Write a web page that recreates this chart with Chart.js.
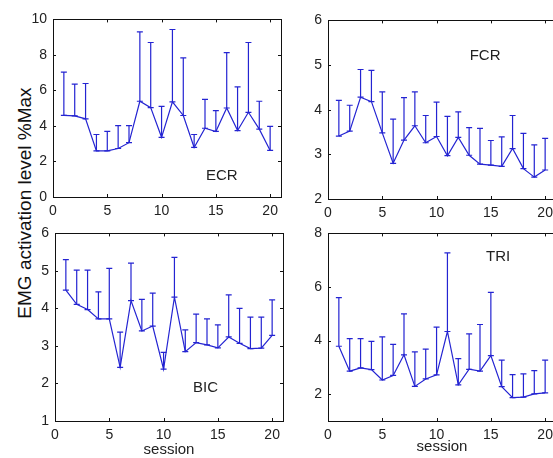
<!DOCTYPE html>
<html>
<head>
<meta charset="utf-8">
<script src="https://cdn.jsdelivr.net/npm/chart.js@4.4.1/dist/chart.umd.min.js"></script>
<style>
    html, body { margin: 0; padding: 0; background: #fff; overflow: hidden; width: 553px; height: 458px; }
    canvas { position: absolute; }
    #ylab {
        position: absolute; left: 24px; top: 203px;
        transform: translate(-50%, -50%) rotate(-90deg);
        font: 19px "Liberation Sans", Arial, sans-serif; color: #111;
        white-space: nowrap; line-height: 1;
    }
</style>
</head>
<body>
<div id="ylab">EMG activation level %Max</div>
<script>
// --- Dados ---
const sessions = [1, 2, 3, 4, 5, 6, 7, 8, 9, 10, 11, 12, 13, 14, 15, 16, 17, 18, 19, 20];
const xTicks = [0, 5, 10, 15, 20];

const ecrMean  = [4.6, 4.57, 4.4, 2.6, 2.6, 2.73, 3.06, 5.39, 5.03, 3.36, 5.36, 4.59, 2.79, 3.87, 3.69, 5.01, 3.74, 4.77, 3.82, 2.62];
const ecrUpper = [7.03, 6.35, 6.39, 3.52, 3.69, 4.02, 4.02, 9.3, 8.7, 5.1, 9.43, 7.83, 3.52, 5.5, 4.86, 8.13, 6.2, 8.7, 5.39, 3.98];
const ecrTicks = [0, 2, 4, 6, 8, 10];

const fcrMean  = [3.41, 3.52, 4.28, 4.18, 3.48, 2.8, 3.32, 3.64, 3.26, 3.4, 2.97, 3.38, 2.98, 2.78, 2.76, 2.73, 3.13, 2.68, 2.49, 2.65];
const fcrUpper = [4.21, 4.1, 4.9, 4.88, 4.4, 3.79, 4.27, 4.4, 3.87, 4.17, 3.85, 3.95, 3.6, 3.58, 3.31, 3.39, 3.87, 3.47, 3.21, 3.36];
const fcrTicks = [2, 3, 4, 5, 6];

const bicMean  = [4.49, 4.11, 3.97, 3.72, 3.72, 2.43, 4.21, 3.4, 3.53, 2.38, 4.3, 2.85, 3.09, 3.03, 2.95, 3.24, 3.07, 2.93, 2.94, 3.28];
const bicUpper = [5.3, 5.02, 5.02, 4.44, 5.07, 3.37, 5.21, 4.24, 4.41, 2.83, 5.36, 3.43, 3.85, 3.72, 3.56, 4.36, 4.0, 3.77, 3.77, 4.23];
const bicTicks = [1, 2, 3, 4, 5, 6];

const triMean  = [3.79, 2.86, 2.98, 2.92, 2.53, 2.7, 3.47, 2.29, 2.57, 2.72, 4.34, 2.35, 2.93, 2.86, 3.44, 2.28, 1.87, 1.89, 2.01, 2.05];
const triUpper = [5.6, 4.07, 4.07, 3.97, 4.14, 3.86, 5.0, 3.58, 3.68, 4.5, 7.27, 3.33, 4.25, 4.6, 5.8, 3.27, 2.73, 2.76, 2.88, 3.27];
const triTicks = [2, 4, 6, 8];

// --- Estilo ---
const FONT = '"Liberation Sans", Arial, sans-serif';
const LINE_COLOR = '#2424d2';
const TEXT_COLOR = '#222';

// painéis: caixa do gráfico em pixels da página
const panels = [
    { name: 'ECR', mean: ecrMean, upper: ecrUpper, yTicks: ecrTicks, yMin: 0, yMax: 10,
      box: { l: 53, t: 15, r: 281, b: 197 }, xTitle: '', xh: 30, label: { x: 15.55, y: 1.21 } },
    { name: 'FCR', mean: fcrMean, upper: fcrUpper, yTicks: fcrTicks, yMin: 2, yMax: 6,
      box: { l: 328, t: 16, r: 556, b: 199 }, xTitle: '', xh: 30, label: { x: 14.47, y: 5.21 } },
    { name: 'BIC', mean: bicMean, upper: bicUpper, yTicks: bicTicks, yMin: 1, yMax: 6,
      box: { l: 55, t: 229, r: 283, b: 421 }, xTitle: 'session', xh: 38, label: { x: 13.86, y: 1.87 } },
    { name: 'TRI', mean: triMean, upper: triUpper, yTicks: triTicks, yMin: 1, yMax: 8,
      box: { l: 328, t: 229, r: 556, b: 421 }, xTitle: 'session', xh: 35, label: { x: 15.67, y: 7.12 } }
];

const Y_W = 45;   // largura fixa do eixo y
const PAD_T = 10;
const PAD_R = 6;

// --- Plugin: barras de erro (só superior) ---
const errorBarsPlugin = {
    id: 'errorBars',
    afterDatasetsDraw(chart, args, opts) {
        const ctx = chart.ctx;
        const meta = chart.getDatasetMeta(0);
        const yScale = chart.scales.y;
        const upper = opts.upper || [];
        ctx.save();
        ctx.strokeStyle = LINE_COLOR;
        ctx.lineWidth = 1.2;
        meta.data.forEach((pt, i) => {
            const x = pt.x;
            const yTop = yScale.getPixelForValue(upper[i]);
            ctx.beginPath();
            ctx.moveTo(x, pt.y);
            ctx.lineTo(x, yTop);
            ctx.moveTo(x - 3, yTop);
            ctx.lineTo(x + 3, yTop);
            ctx.moveTo(x - 3, pt.y);
            ctx.lineTo(x + 3, pt.y);
            ctx.stroke();
        });
        ctx.restore();
    }
};

// --- Plugin: caixa estilo MATLAB com ticks para dentro + rótulo do músculo ---
const boxPlugin = {
    id: 'matlabBox',
    afterDraw(chart, args, opts) {
        const ctx = chart.ctx;
        const a = chart.chartArea;
        const xs = chart.scales.x;
        const ys = chart.scales.y;
        const len = 3;
        ctx.save();
        ctx.strokeStyle = '#111';
        ctx.lineWidth = 1;
        ctx.strokeRect(Math.round(a.left) + 0.5, Math.round(a.top) + 0.5,
            Math.round(a.right - a.left), Math.round(a.bottom - a.top));
        ctx.beginPath();
        xs.ticks.forEach(t => {
            const px = Math.round(xs.getPixelForValue(t.value)) + 0.5;
            ctx.moveTo(px, a.bottom); ctx.lineTo(px, a.bottom - len);
            ctx.moveTo(px, a.top); ctx.lineTo(px, a.top + len);
        });
        ys.ticks.forEach(t => {
            const py = Math.round(ys.getPixelForValue(t.value)) + 0.5;
            ctx.moveTo(a.left, py); ctx.lineTo(a.left + len, py);
            ctx.moveTo(a.right, py); ctx.lineTo(a.right - len, py);
        });
        ctx.stroke();

        if (opts.text) {
            ctx.fillStyle = TEXT_COLOR;
            ctx.font = '15px ' + FONT;
            ctx.textAlign = 'center';
            ctx.textBaseline = 'middle';
            ctx.fillText(opts.text, xs.getPixelForValue(opts.x), ys.getPixelForValue(opts.y));
        }
        ctx.restore();
    }
};

function criarPainel(p) {
    const w = (p.box.r - p.box.l) + Y_W + PAD_R;
    const h = (p.box.b - p.box.t) + PAD_T + p.xh;
    const canvas = document.createElement('canvas');
    canvas.width = w;
    canvas.height = h;
    canvas.style.left = (p.box.l - Y_W) + 'px';
    canvas.style.top = (p.box.t - PAD_T) + 'px';
    document.body.appendChild(canvas);

    const yTicks = p.yTicks;
    new Chart(canvas, {
        type: 'line',
        data: {
            datasets: [{
                data: sessions.map((s, i) => ({ x: s, y: p.mean[i] })),
                borderColor: LINE_COLOR,
                borderWidth: 1.2,
                pointRadius: 0,
                tension: 0,
                fill: false
            }]
        },
        options: {
            responsive: false,
            animation: false,
            layout: { padding: { left: 0, top: PAD_T, right: PAD_R, bottom: 0 } },
            plugins: {
                legend: { display: false },
                tooltip: { enabled: false },
                errorBars: { upper: p.upper },
                matlabBox: { text: p.name, x: p.label.x, y: p.label.y }
            },
            scales: {
                x: {
                    type: 'linear',
                    min: 0, max: 21,
                    grid: { display: false, drawTicks: false },
                    border: { display: false },
                    ticks: { padding: 6, color: TEXT_COLOR, font: { family: FONT, size: 14 } },
                    afterBuildTicks: s => { s.ticks = xTicks.map(v => ({ value: v })); },
                    afterFit: s => { s.height = p.xh; },
                    title: {
                        display: !!p.xTitle, text: p.xTitle, color: TEXT_COLOR,
                        font: { family: FONT, size: 15 }, padding: { top: 0, bottom: 0 }
                    }
                },
                y: {
                    min: p.yMin, max: p.yMax,
                    grid: { display: false, drawTicks: false },
                    border: { display: false },
                    ticks: { padding: 6, color: TEXT_COLOR, font: { family: FONT, size: 14 } },
                    afterBuildTicks: s => { s.ticks = yTicks.map(v => ({ value: v })); },
                    afterFit: s => { s.width = Y_W; }
                }
            }
        },
        plugins: [errorBarsPlugin, boxPlugin]
    });
}

panels.forEach(criarPainel);
</script>
</body>
</html>
